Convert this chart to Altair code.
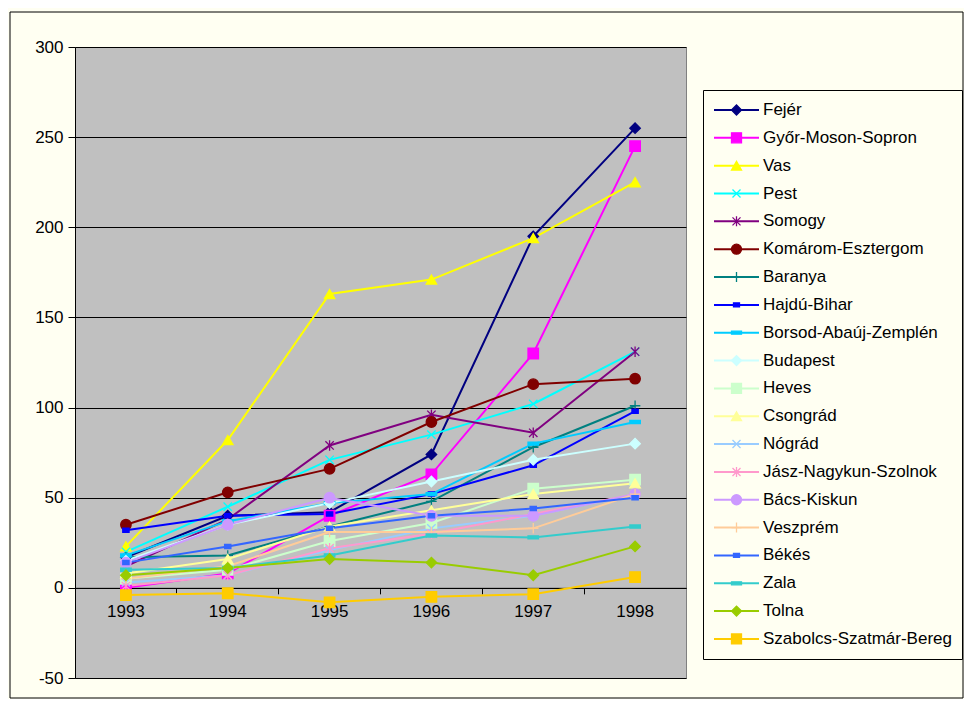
import altair as alt
import pandas as pd

years = ["1993", "1994", "1995", "1996", "1997", "1998"]
names = ["Fejér", "Győr-Moson-Sopron", "Vas", "Pest", "Somogy", "Komárom-Esztergom",
         "Baranya", "Hajdú-Bihar", "Borsod-Abaúj-Zemplén", "Budapest", "Heves",
         "Csongrád", "Nógrád", "Jász-Nagykun-Szolnok", "Bács-Kiskun", "Veszprém",
         "Békés", "Zala", "Tolna", "Szabolcs-Szatmár-Bereg"]

fejer = [17, 40, 42, 74, 195, 255]
gyor = [0, 8, 40, 63, 130, 245]
vas = [23, 82, 163, 171, 194, 225]
pest = [20, 45, 71, 85, 102, 131]
somogy = [12, 38, 79, 96, 86, 131]
komarom = [35, 53, 66, 92, 113, 116]
baranya = [17, 18, 34, 48, 78, 101]
hajdu = [32, 40, 41, 52, 68, 98]
borsod = [18, 37, 47, 52, 80, 92]
budapest = [15, 35, 47, 59, 71, 80]
heves = [5, 10, 26, 36, 55, 60]
csongrad = [8, 16, 34, 43, 52, 58]
nograd = [3, 7, 21, 33, 40, 52]
jasz = [1, 7, 22, 30, 41, 52]
bacs = [14, 35, 50, 40, 40, 52]
veszprem = [5, 12, 31, 31, 33, 52]
bekes = [14, 23, 33, 40, 44, 50]
zala = [10, 11, 18, 29, 28, 34]
tolna = [7, 11, 16, 14, 7, 23]
szabolcs = [-4, -3, -8, -5, -3.5, 6]

series = [fejer, gyor, vas, pest, somogy, komarom, baranya, hajdu, borsod, budapest,
          heves, csongrad, nograd, jasz, bacs, veszprem, bekes, zala, tolna, szabolcs]

colors = ["#000080", "#FF00FF", "#FFFF00", "#00FFFF", "#800080", "#800000",
          "#008080", "#0000FF", "#00CCFF", "#CCFFFF", "#CCFFCC", "#FFFF99",
          "#99CCFF", "#FF99CC", "#CC99FF", "#FFCC99", "#3366FF", "#33CCCC",
          "#99CC00", "#FFCC00"]

X_SHAPE = "M-0.8,-0.8L0.8,0.8M-0.8,0.8L0.8,-0.8"
STAR_SHAPE = "M-0.8,-0.8L0.8,0.8M-0.8,0.8L0.8,-0.8M0,-1L0,1"
PLUS_SHAPE = "M0,-1L0,1M-1,0L1,0"
SHORT_DASH = "M-0.6,-0.4H0.6V0.4H-0.6Z"
LONG_DASH = "M-1,-0.3H1V0.3H-1Z"
shapes = ["diamond", "square", "triangle-up", X_SHAPE, STAR_SHAPE, "circle",
          PLUS_SHAPE, SHORT_DASH, LONG_DASH, "diamond", "square", "triangle-up",
          X_SHAPE, STAR_SHAPE, "circle", PLUS_SHAPE, SHORT_DASH, LONG_DASH,
          "diamond", "square"]

keys = [n + " " for n in names]
rows = []
for i, n in enumerate(names):
    for yr, v in zip(years, series[i]):
        rows.append({"county": n, "key": keys[i], "year": yr, "value": v})
df = pd.DataFrame(rows)

FONT = "Liberation Sans"
FS = 17
BG = "#FFFFF2"
W, H = 611, 631
zero_offset = -H * 50 / 350

xscale = alt.Scale(type="band", paddingInner=0, paddingOuter=0, domain=years)
yscale = alt.Scale(domain=[-50, 300], nice=False, zero=False)
yaxis = alt.Axis(values=[-50, 0, 50, 100, 150, 200, 250, 300], grid=True,
                 gridColor="#000000", gridWidth=1, tickSize=7, tickColor="#000000",
                 domainColor="#000000", labelPadding=5, labelFontSize=FS,
                 labelColor="#000000", labelFont=FONT, title=None,
                 labelExpr="'' + datum.value")

common_leg = dict(orient="none", legendX=628, legendY=43, padding=10, clipHeight=20,
                  rowPadding=7.84, labelFontSize=FS, labelFont=FONT, labelLimit=400,
                  labelColor="#000000", title=None)

frame = alt.Chart(alt.Data(values=[{"a": 1}])).mark_rect(
    fillOpacity=0, stroke="#000000", strokeWidth=1
).encode(x=alt.value(-65), x2=alt.value(888), y=alt.value(-35), y2=alt.value(651))

lines = alt.Chart(df).mark_line(strokeWidth=2).encode(
    x=alt.X("year:O", scale=xscale,
            axis=alt.Axis(orient="bottom", offset=zero_offset, ticks=False, grid=False,
                          domain=True, domainColor="#000000", labelAngle=0,
                          labelPadding=16, labelFontSize=FS, labelFont=FONT,
                          labelColor="#000000", title=None)),
    y=alt.Y("value:Q", scale=yscale, axis=yaxis),
    color=alt.Color("county:N", scale=alt.Scale(domain=names, range=colors),
                    legend=alt.Legend(symbolType="stroke", symbolSize=2025,
                                      symbolStrokeWidth=2, labelOffset=3,
                                      strokeColor="#000000", fillColor=BG,
                                      **common_leg)),
)

mleg = alt.Legend(symbolSize=100, symbolStrokeWidth=1.3, symbolOffset=15,
                  labelOffset=3, labelOpacity=0, labelExpr="''", **common_leg)

points = alt.Chart(df).mark_point(filled=True, size=110, strokeWidth=1.3, opacity=1).encode(
    x=alt.X("year:O", scale=xscale,
            axis=alt.Axis(orient="bottom", offset=zero_offset, bandPosition=0,
                          labels=False, ticks=True, tickSize=6, tickColor="#000000",
                          domain=False, grid=False, title=None)),
    y=alt.Y("value:Q", scale=yscale, axis=yaxis),
    fill=alt.Fill("key:N", scale=alt.Scale(domain=keys, range=colors), legend=mleg),
    stroke=alt.Stroke("key:N", scale=alt.Scale(domain=keys, range=colors), legend=mleg),
    shape=alt.Shape("key:N", scale=alt.Scale(domain=keys, range=shapes), legend=mleg),
)

chart = alt.layer(frame, lines, points).resolve_axis(x="independent").properties(
    width=W, height=H,
    autosize=alt.AutoSizeParams(type="none"),
    padding={"left": 67, "top": 39, "right": 278, "bottom": 21},
    background=BG,
).configure_view(fill="#C0C0C0", stroke="#808080", strokeWidth=1)

chart.save("out.html", embed_options={"renderer": "svg", "actions": False})
